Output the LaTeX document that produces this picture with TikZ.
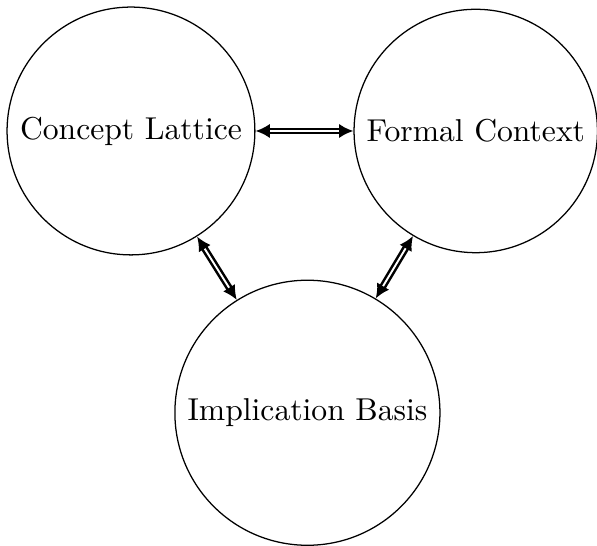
\documentclass[tikz,border=0pt]{standalone}
\usepackage{tikz}
\usetikzlibrary{arrows.meta,positioning}
\tikzset{
  area/.style={circle,draw},
  link/.style={double,thick,{Latex[length=4.5pt,width=4.5pt]}-{Latex[length=4.5pt,width=4.5pt]}}
}
\begin{document}
\begin{tikzpicture}
  \useasboundingbox (-1.455,1.455) rectangle (5.177,-4.60);
  % the three views
  \node[area] (lattice) at (0,0) {Concept Lattice};
  \node[area] (context) at (3.83,0) {Formal Context};
  \node[area] (basis) at (1.96,-3.13) {Implication Basis};
  % links
  \draw[link] (lattice) -- (context);
  \draw[link] (lattice) -- (basis);
  \draw[link] (context) -- (basis);
\end{tikzpicture}
\end{document}
